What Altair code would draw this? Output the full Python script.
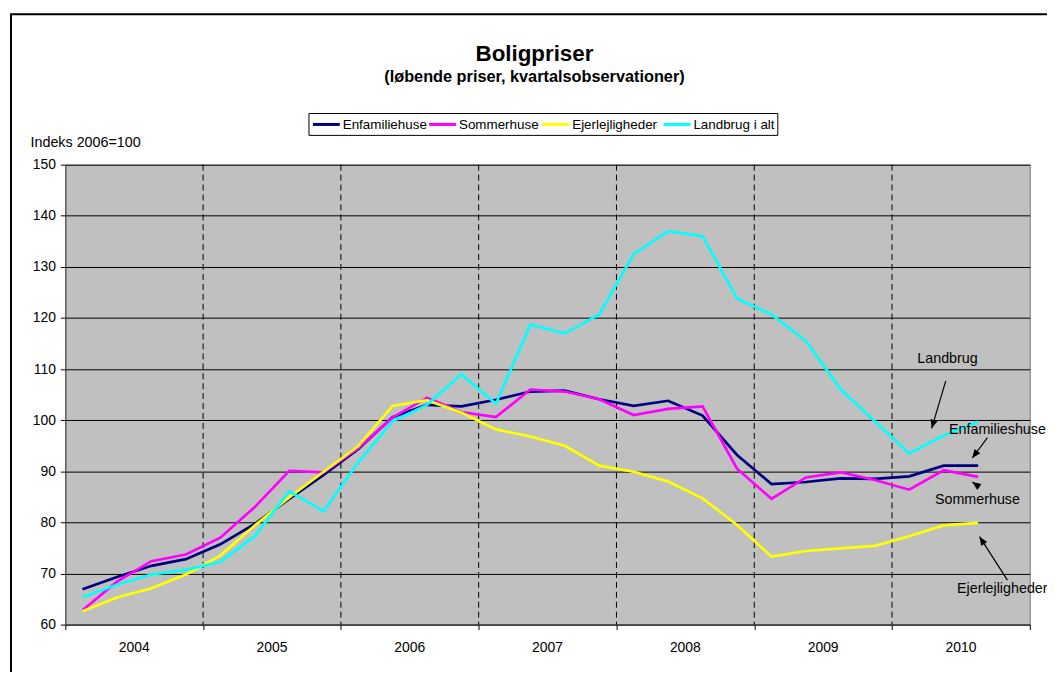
import math
import altair as alt
import pandas as pd

# ---------------- data ----------------
years = [2004, 2005, 2006, 2007, 2008, 2009, 2010]
quarter_index = list(range(27))  # 2004K1 .. 2010K3

series_names = ["Enfamiliehuse", "Sommerhuse", "Ejerlejligheder", "Landbrug i alt"]
series_colors = ["#000080", "#FF00FF", "#FFFF00", "#00FFFF"]

enfamiliehuse = [66.9, 69.3, 71.5, 72.8, 75.7, 79.7, 84.6, 89.3, 94.3, 100.6, 103.0, 102.7, 104.0, 105.6,
                 105.8, 104.1, 102.8, 103.8, 100.9, 93.2, 87.5, 87.9, 88.6, 88.5, 89.0, 91.1, 91.1]
sommerhuse = [62.8, 68.4, 72.4, 73.7, 77.0, 83.0, 90.1, 89.8, 94.5, 100.5, 104.4, 101.6, 100.6, 106.0,
              105.6, 104.1, 101.0, 102.2, 102.7, 90.5, 84.6, 88.8, 89.8, 88.3, 86.4, 90.2, 88.9]
ejerlejligheder = [62.6, 65.3, 67.1, 69.8, 73.5, 79.4, 84.9, 89.9, 94.9, 102.8, 103.9, 101.5, 98.2, 96.8,
                   95.0, 91.1, 89.9, 88.0, 84.7, 79.5, 73.3, 74.4, 74.9, 75.4, 77.3, 79.4, 79.9]
landbrug = [65.4, 67.8, 69.8, 70.7, 72.3, 77.3, 86.1, 82.2, 91.7, 99.8, 103.0, 109.0, 103.2, 118.7,
            117.0, 120.7, 132.5, 137.0, 136.0, 123.8, 120.7, 115.5, 106.1, 99.8, 93.5, 97.0, 99.7]

y_ticks = [60, 70, 80, 90, 100, 110, 120, 130, 140, 150]

# annotation labels (in data units: quarter position, index value)
ann_labels = ["Landbrug", "Enfamilieshuse", "Sommerhuse", "Ejerlejligheder"]
ann_x = [25.61, 27.06, 26.48, 27.20]
ann_y = [112.0, 98.0, 84.4, 66.9]
# arrows: start -> tip
arr_x1 = [25.56, 26.77, 26.54, 27.35]
arr_y1 = [107.7, 96.6, 86.9, 68.7]
arr_x2 = [25.15, 26.33, 26.33, 26.54]
arr_y2 = [98.4, 92.6, 87.9, 77.2]

# ---------------- layout ----------------
W, H = 971, 463
OX, OY = 65.7, 163.5          # page position of the plot area
PAD_L, PAD_T = OX - 8, OY - 8
FONT = "Liberation Sans, Arial, Helvetica, sans-serif"
px_x = W / 28.0
px_y = H / 90.0

rows = []
for name, vals in zip(series_names, [enfamiliehuse, sommerhuse, ejerlejligheder, landbrug]):
    for k, v in zip(quarter_index, vals):
        rows.append({"serie": name, "q": k + 0.5, "indeks": v})
df = pd.DataFrame(rows)

xs = alt.Scale(domain=[0, 28], nice=False, zero=False)
ys = alt.Scale(domain=[60, 150], nice=False, zero=False)

x_axis = alt.Axis(values=list(range(0, 29, 4)), labels=False, grid=False, title=None,
                  tickSize=5, tickColor="#000000", domainColor="#404040")
y_axis = alt.Axis(values=y_ticks, grid=True, gridColor="#000000", gridWidth=1, gridOpacity=1,
                  title=None, tickSize=5, tickColor="#000000", domainColor="#404040",
                  labelPadding=5, labelFontSize=14, labelFont=FONT, labelColor="#000000")

one = pd.DataFrame({"a": [0]})

# outer frame
frame = alt.Chart(one).mark_rect(
    fill=None, fillOpacity=0, stroke="#000000", strokeWidth=2
).encode(
    x=alt.value(11 - OX), x2=alt.value(2000), y=alt.value(12 - OY), y2=alt.value(2000)
)

boundaries = pd.DataFrame({"b": [4 * i for i in range(1, len(years))]})
dashed = alt.Chart(boundaries).mark_rule(color="#000000", strokeWidth=1, strokeDash=[6, 4]).encode(
    x=alt.X("b:Q", scale=xs, axis=x_axis)
)

lines = alt.Chart(df).mark_line(strokeWidth=2.7).encode(
    x=alt.X("q:Q", scale=xs, axis=x_axis),
    y=alt.Y("indeks:Q", scale=ys, axis=y_axis),
    color=alt.Color("serie:N", scale=alt.Scale(domain=series_names, range=series_colors), legend=None),
    order="q:Q",
)

year_df = pd.DataFrame({"year": [str(y) for y in years], "mid": [4 * i + 2 for i in range(len(years))]})
year_labels = alt.Chart(year_df).mark_text(fontSize=14, font=FONT, color="#000000", baseline="middle").encode(
    x=alt.X("mid:Q", scale=xs), y=alt.value(H + 24), text="year:N"
)

ann_df = pd.DataFrame({"label": ann_labels, "x": ann_x, "y": ann_y})
ann_text = alt.Chart(ann_df).mark_text(fontSize=14.4, font=FONT, color="#000000", baseline="middle").encode(
    x=alt.X("x:Q", scale=xs), y=alt.Y("y:Q", scale=ys), text="label:N"
)

angles = []
for a, b, c, d in zip(arr_x1, arr_y1, arr_x2, arr_y2):
    ang = math.degrees(math.atan2((c - a) * px_x, (d - b) * px_y)) % 360
    angles.append(ang)
arr_df = pd.DataFrame({"x1": arr_x1, "y1": arr_y1, "x2": arr_x2, "y2": arr_y2, "ang": angles})
arr_lines = alt.Chart(arr_df).mark_rule(color="#000000", strokeWidth=1.2).encode(
    x=alt.X("x1:Q", scale=xs), y=alt.Y("y1:Q", scale=ys), x2="x2:Q", y2="y2:Q"
)
arr_heads = alt.Chart(arr_df).mark_point(
    shape="M0,0L0.42,1L-0.42,1Z", filled=True, fill="#000000", stroke=None, size=300, opacity=1
).encode(
    x=alt.X("x2:Q", scale=xs), y=alt.Y("y2:Q", scale=ys), angle=alt.Angle("ang:Q", scale=None)
)

# ---------------- manual legend (box, line samples, labels) ----------------
LEG_Y = 123 - OY
legend_box = alt.Chart(one).mark_rect(fill="#FFFFFF", stroke="#000000", strokeWidth=1).encode(
    x=alt.value(311 - OX), x2=alt.value(783 - OX), y=alt.value(112 - OY), y2=alt.value(134 - OY)
)
legend_layers = [legend_box]
entry_x = [315, 432, 546, 668]   # page x of each legend sample
for name, color, ex in zip(series_names, series_colors, entry_x):
    ent = pd.DataFrame({"serie": [name]})
    legend_layers.append(
        alt.Chart(ent).mark_rule(color=color, strokeWidth=3).encode(
            x=alt.value(ex - OX), x2=alt.value(ex + 27 - OX), y=alt.value(LEG_Y)
        )
    )
    legend_layers.append(
        alt.Chart(ent).mark_text(fontSize=13.5, font=FONT, color="#000000", align="left",
                                 baseline="middle").encode(
            x=alt.value(ex + 30 - OX), y=alt.value(LEG_Y + 0.5), text="serie:N"
        )
    )

title1 = alt.Chart(pd.DataFrame({"t": ["Boligpriser"]})).mark_text(
    fontSize=22.5, fontWeight="bold", font=FONT, color="#000000", align="center", baseline="alphabetic"
).encode(x=alt.value(538 - OX), y=alt.value(59 - OY), text="t:N")
title2 = alt.Chart(pd.DataFrame({"t": ["(løbende priser, kvartalsobservationer)"]})).mark_text(
    fontSize=16.4, fontWeight="bold", font=FONT, color="#000000", align="center", baseline="alphabetic"
).encode(x=alt.value(538 - OX), y=alt.value(80.5 - OY), text="t:N")
ylabel = alt.Chart(pd.DataFrame({"t": ["Indeks 2006=100"]})).mark_text(
    fontSize=14.4, font=FONT, color="#000000", align="left", baseline="alphabetic"
).encode(x=alt.value(30.7 - OX), y=alt.value(145.5 - OY), text="t:N")

chart = alt.layer(
    frame, dashed, lines, year_labels, arr_lines, arr_heads, ann_text,
    *legend_layers, title1, title2, ylabel
).properties(
    width=W, height=H,
    autosize=alt.AutoSizeParams(type="none"),
    padding={"left": PAD_L, "top": PAD_T, "right": 1046 - PAD_L - W, "bottom": 664 - PAD_T - H},
    background="#FFFFFF",
).configure_view(
    fill="#C0C0C0", stroke="#808080", strokeWidth=1
)

chart.save("out.html", embed_options={"renderer": "svg", "actions": False})
